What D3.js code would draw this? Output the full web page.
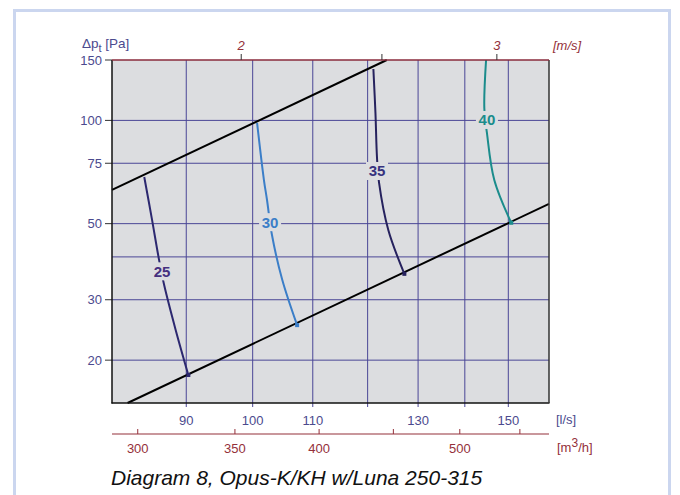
<!DOCTYPE html>
<html>
<head>
<meta charset="utf-8">
<script src="https://cdn.jsdelivr.net/npm/d3@7"></script>
<style>
  body { margin: 0; background: #fff; }
  svg { font-family: "Liberation Sans", Arial, sans-serif; }
</style>
</head>
<body>
<script>
// flow in l/s, pressure in Pa
const levels = [25, 30, 35, 40]
const flow25 = [84.2, 85.2, 86.2, 86.9, 88.5, 90.3]
const dp25 = [68.4, 52, 39.2, 33.1, 24.5, 18.1]
const flow30 = [100.7, 101.8, 102.3, 103.1, 104.8, 107.3]
const dp30 = [98.3, 67.0, 58.6, 46.4, 34.3, 25.3]
const flow35 = [121.1, 121.5, 121.8, 122.2, 124.0, 127.2]
const dp35 = [141.2, 105, 77.7, 65.7, 47.9, 35.7]
const flow40 = [144.8, 144.4, 145.0, 146.7, 150.7]
const dp40 = [150, 108.7, 91.9, 67.0, 50.3]
const labelFlow = [86.6, 102.8, 121.8, 145.0]
const labelDp = [36.3, 50.5, 71.2, 100.3]
const curveColors = ['#2c2870', '#3b7ec8', '#26225e', '#1b8c8c']
const labelColors = ['#45307f', '#3b7ec8', '#36327e', '#1b8c8c']

// limit lines dp = k * q^2
const upperFlow = [80, 123.7]
const upperDp = [62.7, 150]
const lowerFlow = [82.0, 160]
const lowerDp = [15, 57.1]

const flowGrid = [90, 100, 110, 120, 130, 140, 150]
const flowTicks = [90, 100, 110, 130, 150]
const m3hTicks = [300, 350, 400, 450, 500, 550]
const m3hLabels = [300, 350, 400, 500]
const dpGrid = [20, 30, 40, 50, 75, 100]
const dpTicks = [20, 30, 50, 75, 100, 150]
const velTicks = [2, 2.5, 3]
const velLabels = [2, 3]
const ductArea = 0.0491 // m2

const W = 680, H = 495
const svg = d3.select('body').append('svg').attr('width', W).attr('height', H)

// outer frame
svg.append('rect').attr('x', 14.5).attr('y', 10.5).attr('width', 655).attr('height', 500)
    .attr('fill', 'none').attr('stroke', '#cbd6ef').attr('stroke-width', 3)

const x = d3.scaleLog().domain([80, 160]).range([112, 549])
const y = d3.scaleLog().domain([15, 150]).range([403, 60])

svg.append('rect').attr('x', 112).attr('y', 60).attr('width', 437).attr('height', 343)
    .attr('fill', '#dcdde0')

const gridColor = '#4a4696'
svg.append('g').selectAll('line').data(flowGrid).enter().append('line')
    .attr('x1', d => x(d)).attr('x2', d => x(d)).attr('y1', 60).attr('y2', 407)
    .attr('stroke', gridColor).attr('stroke-width', 1)
svg.append('g').selectAll('line').data(dpGrid).enter().append('line')
    .attr('x1', 112).attr('x2', 549).attr('y1', d => y(d)).attr('y2', d => y(d))
    .attr('stroke', gridColor).attr('stroke-width', 1)

// y ticks
svg.append('g').selectAll('line').data(dpTicks).enter().append('line')
    .attr('x1', 105).attr('x2', 112).attr('y1', d => y(d)).attr('y2', d => y(d))
    .attr('stroke', '#333').attr('stroke-width', 1)
svg.append('g').selectAll('text').data(dpTicks).enter().append('text')
    .attr('x', 102).attr('y', d => y(d) + 4.5).attr('text-anchor', 'end')
    .attr('font-size', 13).attr('fill', '#4b4a8e').text(d => d)
const yt = svg.append('text').attr('x', 82).attr('y', 48).attr('font-size', 13.5).attr('fill', '#4b4a8e')
yt.append('tspan').text('Δp')
yt.append('tspan').attr('font-size', 11).attr('dy', 4).text('t')
yt.append('tspan').attr('dy', -4).text(' [Pa]')

// limit lines
const line = d3.line().x(d => x(d[0])).y(d => y(d[1]))
svg.append('path').attr('d', line(d3.zip(upperFlow, upperDp)))
    .attr('stroke', '#000').attr('stroke-width', 2).attr('fill', 'none')
svg.append('path').attr('d', line(d3.zip(lowerFlow, lowerDp)))
    .attr('stroke', '#000').attr('stroke-width', 2).attr('fill', 'none')

// sound level curves
const curves = [d3.zip(flow25, dp25), d3.zip(flow30, dp30), d3.zip(flow35, dp35), d3.zip(flow40, dp40)]
const smooth = d3.line().x(d => x(d[0])).y(d => y(d[1])).curve(d3.curveCatmullRom)
curves.forEach((c, i) => {
  svg.append('path').attr('d', smooth(c)).attr('fill', 'none')
      .attr('stroke', curveColors[i]).attr('stroke-width', 2)
  const end = c[c.length - 1]
  svg.append('rect').attr('x', x(end[0]) - 2).attr('y', y(end[1]) - 2)
      .attr('width', 4).attr('height', 4).attr('fill', curveColors[i])
})
levels.forEach((lv, i) => {
  const cx = x(labelFlow[i]), cy = y(labelDp[i])
  svg.append('rect').attr('x', cx - 11).attr('y', cy - 9).attr('width', 22).attr('height', 18)
      .attr('fill', '#dcdde0')
  svg.append('text').attr('x', cx).attr('y', cy + 5.5).attr('text-anchor', 'middle')
      .attr('font-size', 15).attr('font-weight', 'bold').attr('fill', labelColors[i]).text(lv)
})

// plot border
svg.append('line').attr('x1', 112).attr('x2', 112).attr('y1', 60).attr('y2', 403.5)
    .attr('stroke', '#111').attr('stroke-width', 1.5)
svg.append('line').attr('x1', 111.5).attr('x2', 549.5).attr('y1', 403).attr('y2', 403)
    .attr('stroke', '#111').attr('stroke-width', 1.5)
svg.append('line').attr('x1', 549).attr('x2', 549).attr('y1', 60).attr('y2', 403)
    .attr('stroke', '#333').attr('stroke-width', 1.5)
svg.append('line').attr('x1', 112).attr('x2', 549).attr('y1', 60).attr('y2', 60)
    .attr('stroke', '#8a2b3d').attr('stroke-width', 1.5)

// l/s labels
svg.append('g').selectAll('text').data(flowTicks).enter().append('text')
    .attr('x', d => x(d)).attr('y', 425).attr('text-anchor', 'middle')
    .attr('font-size', 13).attr('fill', '#4b4a8e').text(d => d)
svg.append('text').attr('x', 556).attr('y', 424).attr('font-size', 13).attr('fill', '#4b4a8e').text('[l/s]')

// m3/h axis
const red = '#94303a'
svg.append('line').attr('x1', 112).attr('x2', 549).attr('y1', 434).attr('y2', 434)
    .attr('stroke', red).attr('stroke-width', 1.2)
svg.append('g').selectAll('line').data(m3hTicks).enter().append('line')
    .attr('x1', d => x(d / 3.6)).attr('x2', d => x(d / 3.6)).attr('y1', 429).attr('y2', 434)
    .attr('stroke', red).attr('stroke-width', 1)
svg.append('g').selectAll('text').data(m3hLabels).enter().append('text')
    .attr('x', d => x(d / 3.6)).attr('y', 453).attr('text-anchor', 'middle')
    .attr('font-size', 13).attr('fill', red).text(d => d)
const mt = svg.append('text').attr('x', 557).attr('y', 452).attr('font-size', 13).attr('fill', red)
mt.append('tspan').text('[m')
mt.append('tspan').attr('font-size', 12).attr('dy', -5).text('3')
mt.append('tspan').attr('dy', 5).text('/h]')

// m/s axis on top
svg.append('g').selectAll('line').data(velTicks).enter().append('line')
    .attr('x1', d => x(d * ductArea * 1000)).attr('x2', d => x(d * ductArea * 1000))
    .attr('y1', 54).attr('y2', 60).attr('stroke', '#333').attr('stroke-width', 1)
svg.append('g').selectAll('text').data(velLabels).enter().append('text')
    .attr('x', d => x(d * ductArea * 1000)).attr('y', 50).attr('text-anchor', 'middle')
    .attr('font-size', 13).attr('font-style', 'italic').attr('fill', red).text(d => d)
svg.append('text').attr('x', 553).attr('y', 50).attr('font-size', 13)
    .attr('font-style', 'italic').attr('fill', red).text('[m/s]')

// title
svg.append('text').attr('x', 111).attr('y', 485).attr('font-size', 21)
    .attr('font-style', 'italic').attr('fill', '#111').text('Diagram 8, Opus-K/KH w/Luna 250-315')
</script>
</body>
</html>
